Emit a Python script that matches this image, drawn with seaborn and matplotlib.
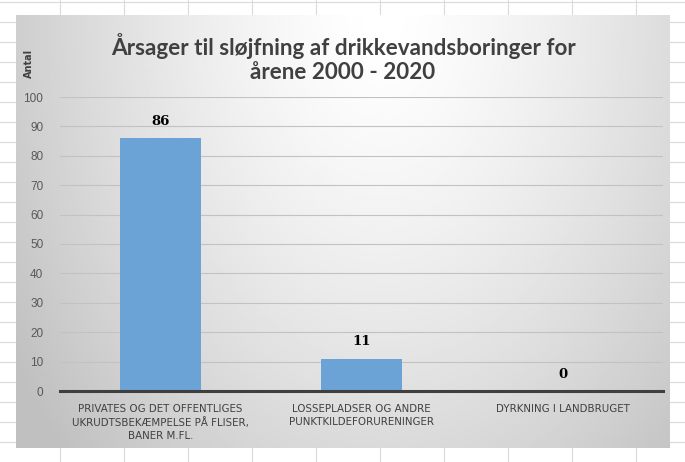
import numpy as np
import pandas as pd
import matplotlib
matplotlib.use('Agg')
import matplotlib.pyplot as plt
import seaborn as sns

categories = [
    'PRIVATES OG DET OFFENTLIGES\nUKRUDTSBEKÆMPELSE PÅ FLISER,\nBANER M.FL.',
    'LOSSEPLADSER OG ANDRE\nPUNKTKILDEFORURENINGER',
    'DYRKNING I LANDBRUGET',
]
values = [86, 11, 0]
y_ticks = [0, 10, 20, 30, 40, 50, 60, 70, 80, 90, 100]
title = 'Årsager til sløjfning af drikkevandsboringer for\nårene 2000 - 2020'
y_label = 'Antal'

W, H = 685, 462
BAR_COLOR = '#6ca3d7'

sns.set_style('white')
plt.rcParams['font.family'] = ['Liberation Sans Narrow', 'DejaVu Sans']

fig = plt.figure(figsize=(W / 100, H / 100), dpi=100)
fig.patch.set_facecolor('white')

# spreadsheet grid behind the chart
sheet = fig.add_axes([0, 0, 1, 1], zorder=-2)
sheet.set_xlim(0, W)
sheet.set_ylim(H, 0)
sheet.set_axis_off()
for x in range(60, W, 64):
    sheet.axvline(x, color='#dadada', lw=0.8)
for y in range(2, H, 20):
    sheet.axhline(y, color='#dadada', lw=0.8)

# chart panel with a soft grey gradient
px0, py0, px1, py1 = 16, 15, 670, 448
bg = fig.add_axes([px0 / W, 1 - py1 / H, (px1 - px0) / W, (py1 - py0) / H],
                  zorder=-1)
gx, gy = np.meshgrid(np.linspace(0, 1, 300), np.linspace(0, 1, 200))
d = np.sqrt(((gx - 0.56) / 0.62) ** 2 + ((gy - 0.0) / 1.35) ** 2)
shade = np.clip(1.0 - 0.22 * d ** 1.4, 0.75, 1.0)
bg.imshow(shade, cmap='gray', vmin=0, vmax=1, aspect='auto',
          extent=[0, 1, 1, 0], interpolation='bilinear')
bg.set_axis_off()

ax = fig.add_axes([60 / W, 1 - 391 / H, 603 / W, 294 / H])
ax.set_facecolor('none')
df = pd.DataFrame({'cat': categories, 'val': values})
sns.barplot(data=df, x='cat', y='val', color=BAR_COLOR, width=0.4,
            saturation=1, linewidth=0, ax=ax, zorder=3)
ax.set_xlim(-0.5, 2.5)
ax.set_ylim(0, 100)
ax.set_yticks(y_ticks)
ax.yaxis.grid(True, color='#c2c2c2', lw=0.8)
ax.set_axisbelow(True)
for s in ['top', 'right', 'left']:
    ax.spines[s].set_visible(False)
ax.spines['bottom'].set_color('#3f3f3f')
ax.spines['bottom'].set_linewidth(2.2)
ax.spines['bottom'].set_zorder(5)
ax.tick_params(axis='both', length=0)
ax.tick_params(axis='y', labelcolor='#595959', pad=12)
ax.tick_params(axis='x', labelsize=7.4, labelcolor='#404040', pad=9)
for lab in ax.get_yticklabels():
    lab.set_family(['Liberation Sans', 'DejaVu Sans'])
    lab.set_fontsize(8.5)
for lab in ax.get_xticklabels():
    lab.set_linespacing(1.4)
ax.set_xlabel('')
ax.set_ylabel('')

for i, v in enumerate(values):
    ax.annotate(str(v), (i, v), xytext=(0, 12), textcoords='offset points',
                ha='center', va='center', fontsize=9.5, fontweight='bold',
                family=['DejaVu Serif'], color='black')

fig.text(343 / W, 1 - 58 / H, title, ha='center', va='center',
         fontsize=16.2, fontweight='bold', color='#404040',
         family=['Lato', 'DejaVu Sans'], linespacing=1.22)
fig.text(29 / W, 1 - 63 / H, y_label, rotation=90, ha='center', va='center',
         fontsize=7, fontweight='bold', color='#404040',
         family=['DejaVu Sans'])

fig.savefig('out.png', dpi=100)
